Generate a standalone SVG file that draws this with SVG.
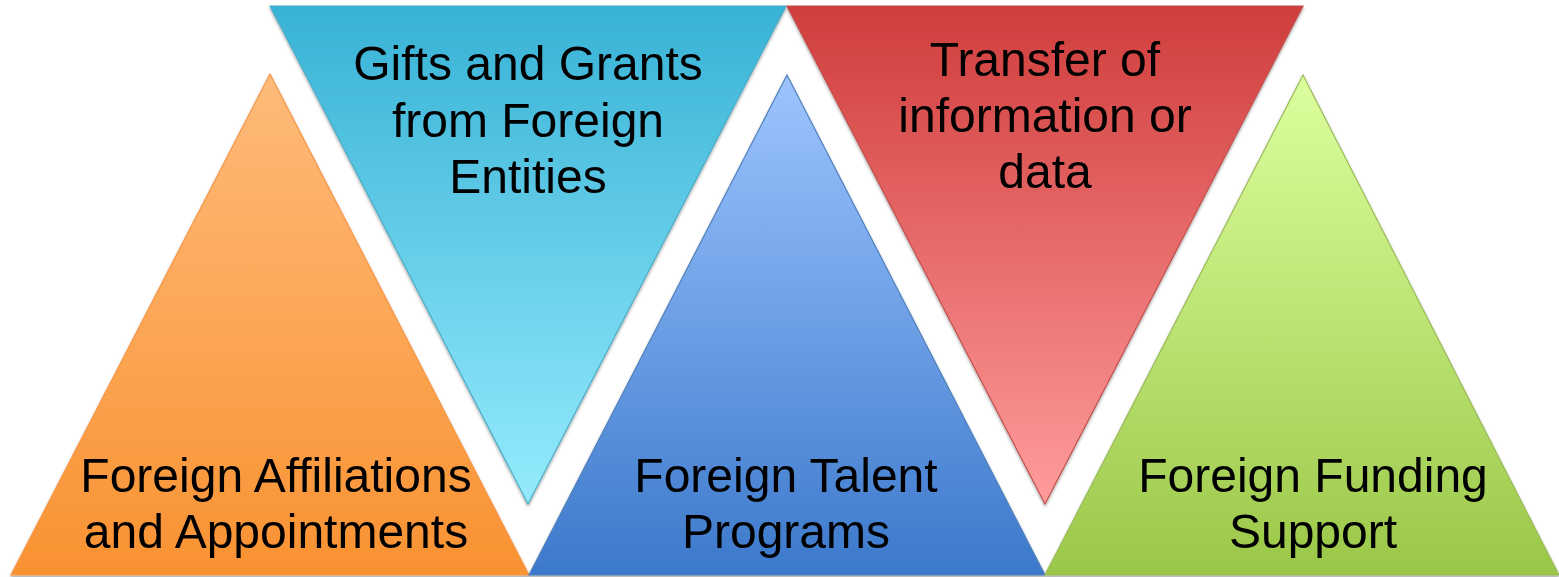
<svg xmlns="http://www.w3.org/2000/svg" width="1559" height="577" viewBox="0 0 1559 577">
<style>
.lbl{font-family:"Liberation Sans",Arial,sans-serif;font-size:48px;fill:#000;text-anchor:middle}
.tri{stroke-width:1.2}
</style>
<defs>
<filter id="sh" x="-5%" y="-5%" width="110%" height="115%">
<feDropShadow dx="0" dy="2" stdDeviation="1.5" flood-color="#000" flood-opacity="0.35"/>
</filter>
<linearGradient id="gO" x1="0" y1="0" x2="0" y2="1"><stop offset="0" stop-color="#FEBB7A"/><stop offset="1" stop-color="#F99232"/></linearGradient>
<linearGradient id="gC" x1="0" y1="0" x2="0" y2="1"><stop offset="0" stop-color="#38B2D6"/><stop offset="1" stop-color="#95EBFC"/></linearGradient>
<linearGradient id="gB" x1="0" y1="0" x2="0" y2="1"><stop offset="0" stop-color="#9DC4FF"/><stop offset="1" stop-color="#3C79CB"/></linearGradient>
<linearGradient id="gR" x1="0" y1="0" x2="0" y2="1"><stop offset="0" stop-color="#D03D3C"/><stop offset="1" stop-color="#FF9C9C"/></linearGradient>
<linearGradient id="gG" x1="0" y1="0" x2="0" y2="1"><stop offset="0" stop-color="#DCFF9E"/><stop offset="1" stop-color="#9BC748"/></linearGradient>
</defs>
<rect width="1559" height="577" fill="#fff"/>
<g id="connectors"></g>
<g id="node-affiliations" filter="url(#sh)">
<polygon class="tri" points="270,74 11,575 529,575" fill="url(#gO)" stroke="#F79646"/>
<text class="lbl" x="276" y="492">Foreign Affiliations</text>
<text class="lbl" x="276" y="548">and Appointments</text>
</g>
<g id="node-gifts" filter="url(#sh)">
<polygon class="tri" points="270,6 786,6 528,504" fill="url(#gC)" stroke="#4BACC6"/>
<text class="lbl" x="528" y="80">Gifts and Grants</text>
<text class="lbl" x="528" y="137">from Foreign</text>
<text class="lbl" x="528" y="193">Entities</text>
</g>
<g id="node-talent" filter="url(#sh)">
<polygon class="tri" points="787,75 529,575 1045,575" fill="url(#gB)" stroke="#4F81BD"/>
<text class="lbl" x="786" y="492">Foreign Talent</text>
<text class="lbl" x="786" y="548">Programs</text>
</g>
<g id="node-transfer" filter="url(#sh)">
<polygon class="tri" points="787,6 1303,6 1045,504" fill="url(#gR)" stroke="#C0504D"/>
<text class="lbl" x="1045" y="76">Transfer of</text>
<text class="lbl" x="1045" y="132">information or</text>
<text class="lbl" x="1045" y="188">data</text>
</g>
<g id="node-funding" filter="url(#sh)">
<polygon class="tri" points="1303,75 1045,575 1559,575" fill="url(#gG)" stroke="#9BBB59"/>
<text class="lbl" x="1313" y="492">Foreign Funding</text>
<text class="lbl" x="1313" y="548">Support</text>
</g>
</svg>
